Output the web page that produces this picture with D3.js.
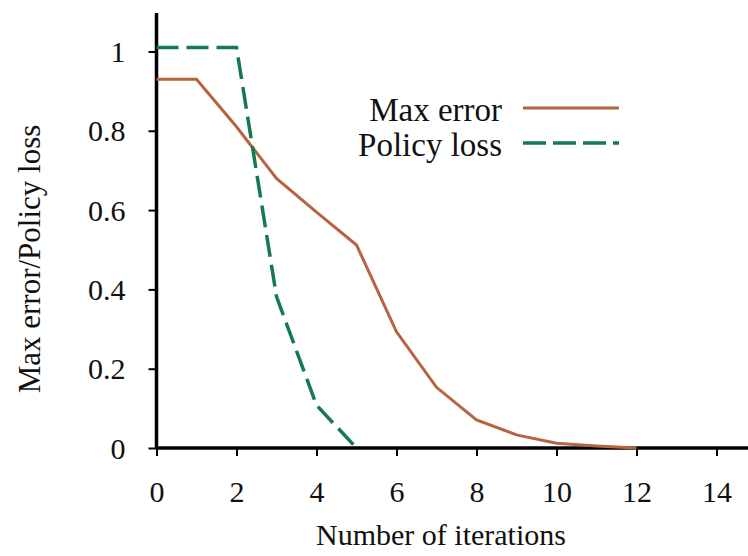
<!DOCTYPE html>
<html><head><meta charset="utf-8">
<script src="https://cdn.jsdelivr.net/npm/d3@7/dist/d3.min.js"></script>
<style>body{margin:0;background:#fff}svg{display:block}</style>
</head><body>
<svg id="c" width="748" height="556"></svg>
<script>
const iterations = [0,1,2,3,4,5,6,7,8,9,10,11,12];
const maxError = [0.93,0.93,0.81,0.68,0.595,0.512,0.293,0.153,0.071,0.033,0.012,0.005,0.0];
const policyIter = [0,1,2,3,4,5];
const policyLoss = [1.01,1.01,1.01,0.382,0.108,0.0];
const xTicks = [0,2,4,6,8,10,12,14];
const yTicks = [0,0.2,0.4,0.6,0.8,1];
const yTickLabels = ["0","0.2","0.4","0.6","0.8","1"];
const seriesNames = ["Max error","Policy loss"];
const seriesColors = ["#b8633f","#137a52"];

const svg = d3.select("#c");
const font = "'Liberation Serif','Times New Roman',serif";
const x = d3.scaleLinear().domain([0,14.8]).range([156.5,748.5]);
const y = d3.scaleLinear().domain([0,1.097]).range([448,13]);

// axes
const xAxis = svg.append("g").attr("transform","translate(0,448)")
  .call(d3.axisBottom(x).tickValues(xTicks).tickSize(8).tickPadding(25).tickFormat(d3.format("d")));
const yAxis = svg.append("g").attr("transform","translate(156.5,0)")
  .call(d3.axisLeft(y).tickValues(yTicks).tickSize(8).tickPadding(23).tickFormat((d,i)=>yTickLabels[i]));
[xAxis,yAxis].forEach(a=>{
  a.select(".domain").attr("stroke","#000").attr("stroke-width",3.5);
  a.selectAll(".tick line").attr("stroke","#000").attr("stroke-width",2);
  a.selectAll(".tick text").attr("font-family",font).attr("font-size",30).attr("fill","#111");
});
xAxis.select(".domain").attr("d","M156.5,0H748");
yAxis.select(".domain").attr("d","M0,13V448");
xAxis.selectAll(".tick text").attr("dy","0.71em");
yAxis.selectAll(".tick text").attr("dy","0.34em");

// lines
const line = d3.line().x(d=>x(d[0])).y(d=>y(d[1]));
svg.append("path").datum(iterations.map((v,i)=>[v,maxError[i]]))
  .attr("d",line).attr("fill","none").attr("stroke",seriesColors[0]).attr("stroke-width",3);
svg.append("path").datum(policyIter.map((v,i)=>[v,policyLoss[i]]))
  .attr("d",line).attr("fill","none").attr("stroke",seriesColors[1]).attr("stroke-width",3.5)
  .attr("stroke-dasharray","22,8");

// legend
const leg = svg.append("g");
seriesNames.forEach((n,i)=>{
  const yy = 108 + i*35;
  leg.append("text").attr("x",502).attr("y",121 + i*35).attr("text-anchor","end")
    .attr("font-family",font).attr("font-size",33).attr("fill","#111").text(n);
  const l = leg.append("line").attr("x1",523).attr("x2",619).attr("y1",yy).attr("y2",yy)
    .attr("stroke",seriesColors[i]).attr("stroke-width",i?3.5:3);
  if(i) l.attr("stroke-dasharray","23,7");
});

// titles
svg.append("text").attr("x",441).attr("y",545).attr("text-anchor","middle")
  .attr("font-family",font).attr("font-size",30).attr("fill","#111").text("Number of iterations");
svg.append("text").attr("transform","translate(40,259) rotate(-90)").attr("text-anchor","middle")
  .attr("font-family",font).attr("font-size",31).attr("fill","#111").text("Max error/Policy loss");
</script>
</body></html>
